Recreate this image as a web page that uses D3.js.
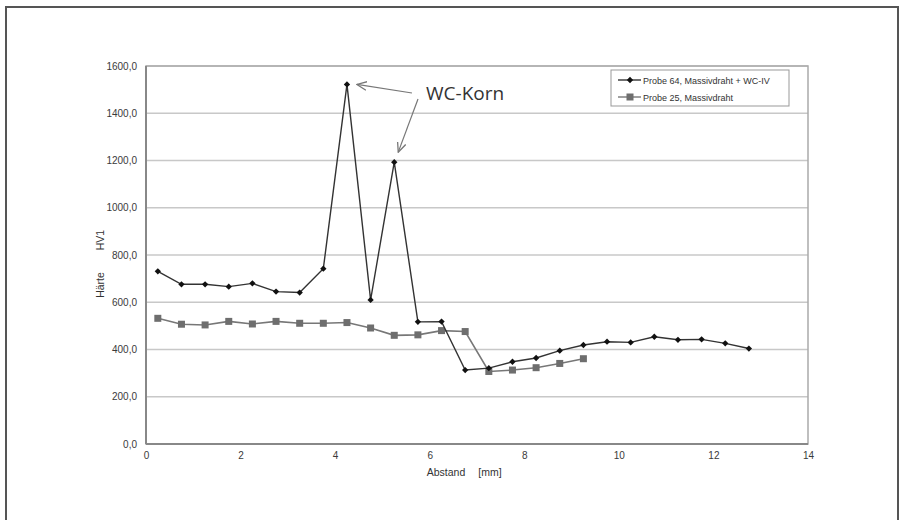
<!DOCTYPE html>
<html>
<head>
<meta charset="utf-8">
<script src="https://cdn.jsdelivr.net/npm/d3@7"></script>
<style>
  body { margin: 0; background: #fff; }
  svg text { font-family: "Liberation Sans", Arial, sans-serif; }
</style>
</head>
<body>
<div class="visContainer"></div>
<script>
// Chart data.
const abstand64 = [0.25, 0.75, 1.25, 1.75, 2.25, 2.75, 3.25, 3.75, 4.25, 4.75, 5.25, 5.75, 6.25,
                   6.75, 7.25, 7.75, 8.25, 8.75, 9.25, 9.75, 10.25, 10.75, 11.25, 11.75, 12.25, 12.75];
const haerte64 = [731, 676, 676, 666, 680, 645, 641, 742, 1522, 610, 1193, 517, 518,
                  313, 321, 348, 364, 395, 419, 433, 430, 454, 441, 443, 426, 404];
const abstand25 = [0.25, 0.75, 1.25, 1.75, 2.25, 2.75, 3.25, 3.75, 4.25, 4.75, 5.25, 5.75, 6.25,
                   6.75, 7.25, 7.75, 8.25, 8.75, 9.25];
const haerte25 = [532, 507, 504, 519, 508, 519, 511, 511, 514, 491, 460, 462, 480,
                  476, 307, 313, 323, 341, 361];
const seriesNames = ['Probe 64, Massivdraht + WC-IV', 'Probe 25, Massivdraht'];
const xTicks = [0, 2, 4, 6, 8, 10, 12, 14];
const yTicks = [0, 200, 400, 600, 800, 1000, 1200, 1400, 1600];

function hardnessChart(){
    // SVG constants.
    const width = 901;
    const height = 520;
    const plot = {left: 146, top: 66, right: 808, bottom: 444};

    const svg = d3.select('.visContainer')
                  .append('svg')
                  .attr('width', width)
                  .attr('height', height);

    // Outer frame.
    svg.append('rect')
       .attr('x', 6).attr('y', 7)
       .attr('width', 892).attr('height', 600)
       .attr('fill', 'none')
       .attr('stroke', '#555')
       .attr('stroke-width', 2);

    // Scales.
    const xScale = d3.scaleLinear().domain([0, 14]).range([plot.left, plot.right]);
    const yScale = d3.scaleLinear().domain([0, 1600]).range([plot.bottom, plot.top]);

    // Grid lines.
    svg.append('g')
       .selectAll('line')
       .data(yTicks.slice(1))
       .enter()
       .append('line')
       .attr('x1', plot.left).attr('x2', plot.right)
       .attr('y1', d => yScale(d)).attr('y2', d => yScale(d))
       .attr('stroke', '#c8c8c8')
       .attr('stroke-width', 1.5);

    // Plot border.
    svg.append('rect')
       .attr('x', plot.left).attr('y', plot.top)
       .attr('width', plot.right - plot.left)
       .attr('height', plot.bottom - plot.top)
       .attr('fill', 'none')
       .attr('stroke', '#aaa')
       .attr('stroke-width', 1.5);
    svg.append('line')
       .attr('x1', plot.left).attr('x2', plot.left)
       .attr('y1', plot.top).attr('y2', plot.bottom)
       .attr('stroke', '#888').attr('stroke-width', 2);
    svg.append('line')
       .attr('x1', plot.left).attr('x2', plot.right)
       .attr('y1', plot.bottom).attr('y2', plot.bottom)
       .attr('stroke', '#888').attr('stroke-width', 2);

    // Axes.
    const fmt = d => d3.format('.1f')(d).replace('.', ',');
    const yAxis = d3.axisLeft(yScale).tickValues(yTicks).tickFormat(fmt).tickSize(0).tickPadding(9);
    const xAxis = d3.axisBottom(xScale).tickValues(xTicks).tickSize(0).tickPadding(8);

    const gy = svg.append('g').attr('transform', `translate(${plot.left},0)`).call(yAxis);
    const gx = svg.append('g').attr('transform', `translate(0,${plot.bottom})`).call(xAxis);
    [gx, gy].forEach(g => {
        g.select('.domain').remove();
        g.selectAll('text').attr('font-size', '10px').attr('fill', '#3a3a3a')
         .style('font-family', '"Liberation Sans", Arial, sans-serif');
    });

    // Axis titles.
    svg.append('text')
       .attr('transform', 'translate(104,240) rotate(-90)')
       .attr('text-anchor', 'middle')
       .attr('font-size', '10.5px').attr('fill', '#333')
       .text('HV1');
    svg.append('text')
       .attr('transform', 'translate(104,285) rotate(-90)')
       .attr('text-anchor', 'middle')
       .attr('font-size', '10.5px').attr('fill', '#333')
       .text('Härte');
    svg.append('text')
       .attr('x', 446).attr('y', 476)
       .attr('text-anchor', 'middle')
       .attr('font-size', '10.5px').attr('fill', '#333')
       .text('Abstand');
    svg.append('text')
       .attr('x', 490).attr('y', 476)
       .attr('text-anchor', 'middle')
       .attr('font-size', '10.5px').attr('fill', '#333')
       .text('[mm]');

    // Series lines and markers.
    const line = d3.line().x(d => xScale(d[0])).y(d => yScale(d[1]));
    const data25 = abstand25.map((x, i) => [x, haerte25[i]]);
    const data64 = abstand64.map((x, i) => [x, haerte64[i]]);

    svg.append('path')
       .datum(data25)
       .attr('d', line)
       .attr('fill', 'none')
       .attr('stroke', '#777')
       .attr('stroke-width', 1.6);
    svg.append('g')
       .selectAll('rect')
       .data(data25)
       .enter()
       .append('rect')
       .attr('x', d => xScale(d[0]) - 3.5)
       .attr('y', d => yScale(d[1]) - 3.5)
       .attr('width', 7).attr('height', 7)
       .attr('fill', '#6e6e6e');

    svg.append('path')
       .datum(data64)
       .attr('d', line)
       .attr('fill', 'none')
       .attr('stroke', '#333')
       .attr('stroke-width', 1.4);
    // Small square turned 45 degrees, as in the original.
    const diamond = d3.symbol().type(d3.symbolSquare).size(20);
    svg.append('g')
       .selectAll('path')
       .data(data64)
       .enter()
       .append('path')
       .attr('d', diamond)
       .attr('transform', d => `translate(${xScale(d[0])},${yScale(d[1])}) rotate(45)`)
       .attr('fill', '#111');

    // Annotation.
    svg.append('defs').append('marker')
       .attr('id', 'arrow')
       .attr('viewBox', '0 0 10 10')
       .attr('refX', 9).attr('refY', 5)
       .attr('markerWidth', 9).attr('markerHeight', 9)
       .attr('orient', 'auto')
       .append('path')
       .attr('d', 'M0,1 L9,5 L0,9')
       .attr('fill', 'none')
       .attr('stroke', '#777')
       .attr('stroke-width', 1.2);

    const p1 = [xScale(abstand64[8]), yScale(haerte64[8])];
    const p2 = [xScale(abstand64[10]), yScale(haerte64[10])];
    svg.append('line')
       .attr('x1', 412).attr('y1', 93)
       .attr('x2', p1[0] + 10).attr('y2', p1[1])
       .attr('stroke', '#777').attr('stroke-width', 1.2)
       .attr('marker-end', 'url(#arrow)');
    svg.append('line')
       .attr('x1', 418).attr('y1', 99)
       .attr('x2', p2[0] + 4).attr('y2', p2[1] - 10)
       .attr('stroke', '#777').attr('stroke-width', 1.2)
       .attr('marker-end', 'url(#arrow)');
    svg.append('text')
       .attr('x', 426).attr('y', 100)
       .attr('font-size', '19px').attr('fill', '#333')
       .style('font-family', '"Open Sans", sans-serif')
       .text('WC-Korn');

    // Legend.
    const legend = svg.append('g');
    legend.append('rect')
          .attr('x', 611).attr('y', 70)
          .attr('width', 178).attr('height', 36)
          .attr('fill', '#fff')
          .attr('stroke', '#999');
    seriesNames.forEach((name, i) => {
        const y = 80 + i * 17;
        legend.append('line')
              .attr('x1', 618).attr('x2', 641)
              .attr('y1', y).attr('y2', y)
              .attr('stroke', i === 0 ? '#333' : '#777')
              .attr('stroke-width', 1.4);
        if (i === 0) {
            legend.append('path').attr('d', diamond)
                  .attr('transform', `translate(630,${y}) rotate(45)`).attr('fill', '#111');
        } else {
            legend.append('rect').attr('x', 626.5).attr('y', y - 3.5)
                  .attr('width', 7).attr('height', 7).attr('fill', '#6e6e6e');
        }
        legend.append('text')
              .attr('x', 643).attr('y', y + 3.5)
              .attr('font-size', '9px').attr('fill', '#333')
              .text(name);
    });
}

hardnessChart();
</script>
</body>
</html>
